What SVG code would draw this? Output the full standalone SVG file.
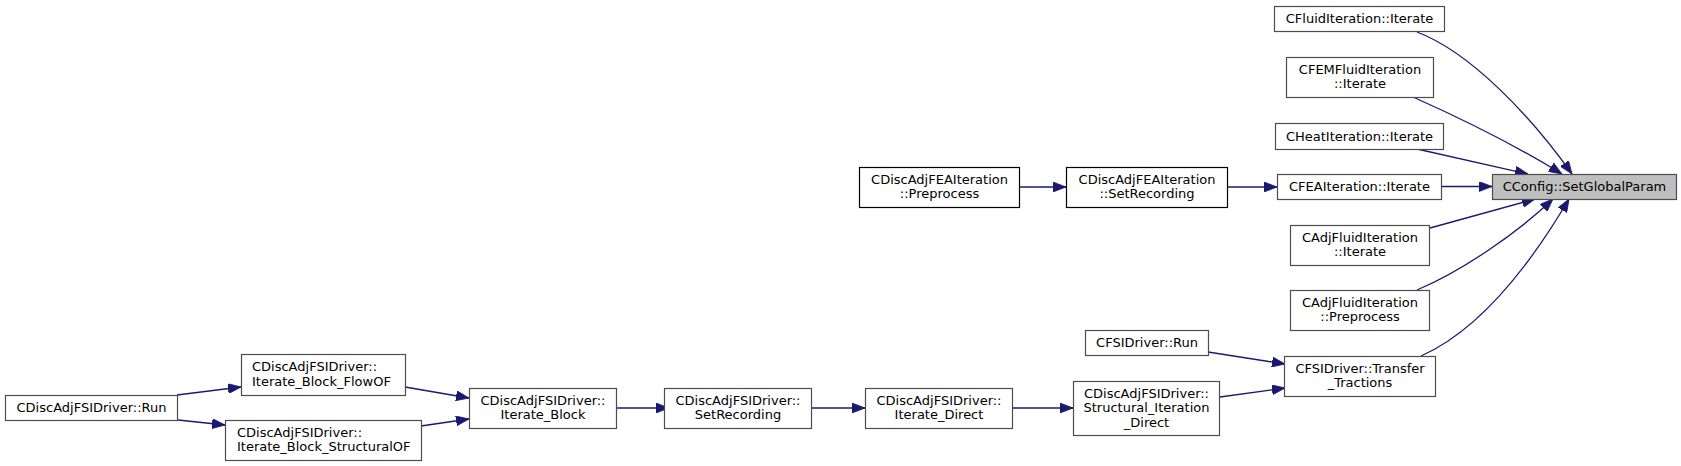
<svg xmlns="http://www.w3.org/2000/svg" width="1681" height="466" viewBox="0 0 1681 466">
<defs>
<style>
.n rect{fill:#ffffff;stroke:#4d4d4d;stroke-width:1.2}
.n.b rect{stroke:#000000}
.n.root rect{fill:#bfbfbf}
.n text{font-family:"DejaVu Sans",sans-serif;font-size:13px;fill:#000000;text-anchor:middle}
.n text.l{text-anchor:start}
.e path{fill:none;stroke:#191970;stroke-width:1.3;marker-end:url(#arr)}
</style>
<marker id="arr" markerUnits="userSpaceOnUse" viewBox="0 0 13 10" refX="13" refY="5" markerWidth="13" markerHeight="10" orient="auto">
<path d="M0,0 L13,5 L0,10 z" fill="#191970" stroke="#191970" stroke-width="0.8"/>
</marker>
</defs>
<rect width="1681" height="466" fill="#ffffff"/>
<g id="edges" class="e">
<path d="M1417,32 C1470,52 1530,115 1572,174"/>
<path d="M1413,97 C1460,118 1520,148 1562,174"/>
<path d="M1417,149 L1528,174"/>
<path d="M1441,186.5 L1492,186.5"/>
<path d="M1430,228 L1535,199"/>
<path d="M1417,290 C1460,272 1515,235 1553,199"/>
<path d="M1421,356 C1480,330 1530,265 1569,199"/>
<path d="M1208,352 L1285,364"/>
<path d="M1220,397 L1285,388"/>
<path d="M1012,408 L1073,408"/>
<path d="M811,408 L865,408"/>
<path d="M616,408 L669,408"/>
<path d="M405,387 L469,398"/>
<path d="M421,426 L469,419"/>
<path d="M177,395 L241,387"/>
<path d="M178,420 L225,425"/>
<path d="M1019,187 L1066,187"/>
<path d="M1227,187 L1277,187"/>
</g>
<g id="n_cfluid" class="n"><rect x="1274.5" y="6.5" width="170" height="25"/><text x="1359.5" y="23">CFluidIteration::Iterate</text></g>
<g id="n_cfemfluid" class="n"><rect x="1286.5" y="57.5" width="147" height="40"/><text x="1360" y="73.5">CFEMFluidIteration</text><text x="1360" y="88">::Iterate</text></g>
<g id="n_cheat" class="n"><rect x="1275.5" y="123.5" width="168" height="26"/><text x="1359.5" y="141">CHeatIteration::Iterate</text></g>
<g id="n_cfea" class="n"><rect x="1277.5" y="174.5" width="164" height="25"/><text x="1359.5" y="191">CFEAIteration::Iterate</text></g>
<g id="n_root" class="n root"><rect x="1492.5" y="174.5" width="184" height="25"/><text x="1584.5" y="191">CConfig::SetGlobalParam</text></g>
<g id="n_cadjiter" class="n"><rect x="1290.5" y="225.5" width="139" height="40"/><text x="1360" y="241.5">CAdjFluidIteration</text><text x="1360" y="256">::Iterate</text></g>
<g id="n_cadjpre" class="n"><rect x="1290.5" y="290.5" width="139" height="40"/><text x="1360" y="306.5">CAdjFluidIteration</text><text x="1360" y="321">::Preprocess</text></g>
<g id="n_cfsirun" class="n"><rect x="1085.5" y="330.5" width="123" height="25"/><text x="1147" y="347">CFSIDriver::Run</text></g>
<g id="n_transfer" class="n"><rect x="1284.5" y="356.5" width="151" height="40"/><text x="1360" y="372.5">CFSIDriver::Transfer</text><text x="1360" y="387">_Tractions</text></g>
<g id="n_structdirect" class="n"><rect x="1073.5" y="381.5" width="146" height="54"/><text x="1146.5" y="397.5">CDiscAdjFSIDriver::</text><text x="1146.5" y="412">Structural_Iteration</text><text x="1146.5" y="426.5">_Direct</text></g>
<g id="n_iterdirect" class="n"><rect x="865.5" y="388.5" width="147" height="40"/><text x="939" y="404.5">CDiscAdjFSIDriver::</text><text x="939" y="419">Iterate_Direct</text></g>
<g id="n_fsisetrec" class="n"><rect x="664.5" y="388.5" width="147" height="40"/><text x="738" y="404.5">CDiscAdjFSIDriver::</text><text x="738" y="419">SetRecording</text></g>
<g id="n_iterblock" class="n"><rect x="469.5" y="388.5" width="147" height="40"/><text x="543" y="404.5">CDiscAdjFSIDriver::</text><text x="543" y="419">Iterate_Block</text></g>
<g id="n_flowof" class="n"><rect x="241.5" y="354.5" width="164" height="41"/><text class="l" x="252" y="371">CDiscAdjFSIDriver::</text><text class="l" x="252" y="385.5">Iterate_Block_FlowOF</text></g>
<g id="n_structof" class="n"><rect x="225.5" y="420.5" width="196" height="40"/><text class="l" x="237" y="436.5">CDiscAdjFSIDriver::</text><text class="l" x="237" y="451">Iterate_Block_StructuralOF</text></g>
<g id="n_fsirun" class="n"><rect x="5.5" y="395.5" width="172" height="25"/><text x="91.5" y="412">CDiscAdjFSIDriver::Run</text></g>
<g id="n_feapre" class="n b"><rect x="859.5" y="167.5" width="160" height="40"/><text x="939.5" y="183.5">CDiscAdjFEAIteration</text><text x="939.5" y="198">::Preprocess</text></g>
<g id="n_feasetrec" class="n b"><rect x="1066.5" y="167.5" width="161" height="40"/><text x="1147" y="183.5">CDiscAdjFEAIteration</text><text x="1147" y="198">::SetRecording</text></g>
</svg>
